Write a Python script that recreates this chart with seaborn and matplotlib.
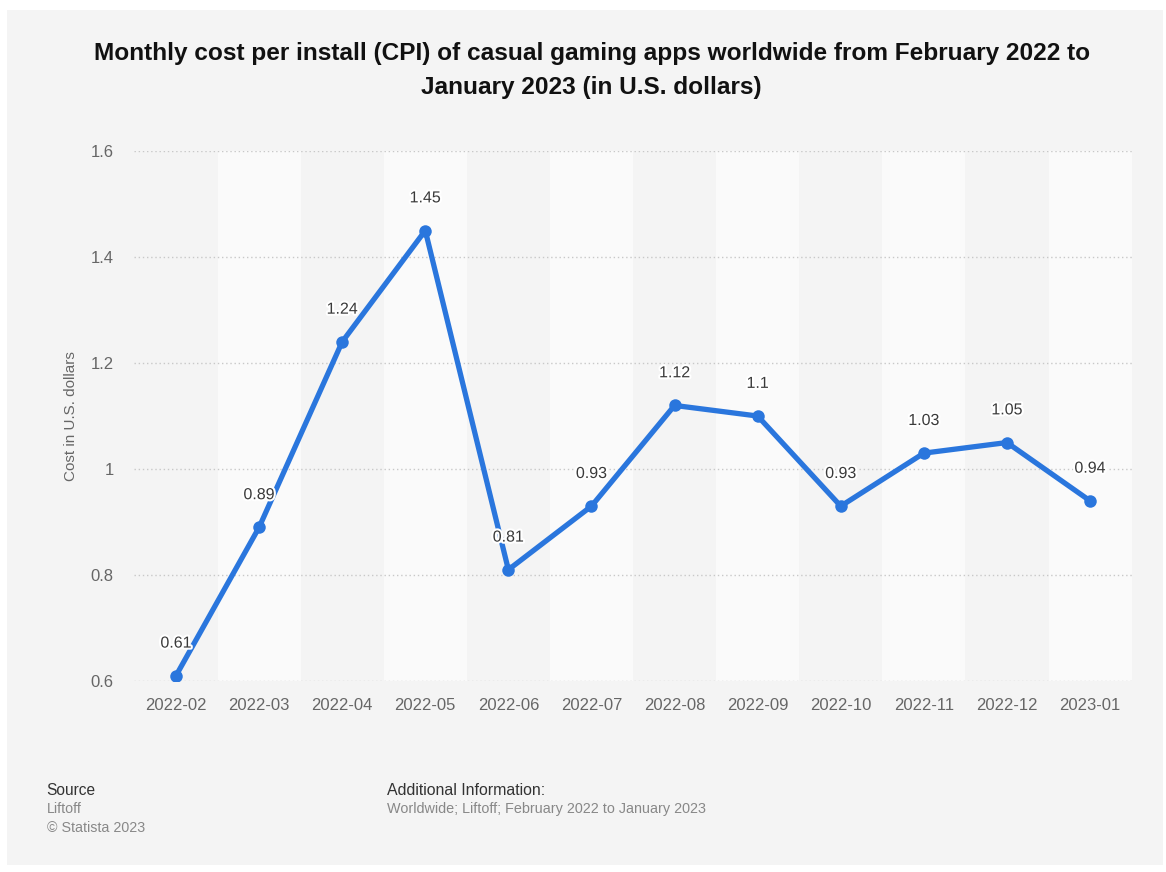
import matplotlib
matplotlib.use("Agg")
import matplotlib.pyplot as plt
import matplotlib.patheffects as pe
from matplotlib.patches import Rectangle
import pandas as pd
import seaborn as sns

meses = ["2022-02", "2022-03", "2022-04", "2022-05", "2022-06", "2022-07",
         "2022-08", "2022-09", "2022-10", "2022-11", "2022-12", "2023-01"]
custo = [0.61, 0.89, 1.24, 1.45, 0.81, 0.93, 1.12, 1.1, 0.93, 1.03, 1.05, 0.94]
rotulos = ["0.61", "0.89", "1.24", "1.45", "0.81", "0.93", "1.12", "1.1",
           "0.93", "1.03", "1.05", "0.94"]
y_ticks = [0.6, 0.8, 1.0, 1.2, 1.4, 1.6]
y_tick_labels = ["0.6", "0.8", "1", "1.2", "1.4", "1.6"]

titulo = ("Monthly cost per install (CPI) of casual gaming apps worldwide from February 2022 to\n"
          "January 2023 (in U.S. dollars)")

df = pd.DataFrame({"mes": meses, "custo": custo})
df["pos"] = range(len(meses))

sns.set_theme(style="white")
plt.rcParams["font.family"] = ["Liberation Sans", "DejaVu Sans"]

fig = plt.figure(figsize=(11.66, 8.72), dpi=100)
fig.patch.set_facecolor("white")
# painel cinza de fundo
fig.add_artist(Rectangle((0.006, 0.008), 0.991, 0.981, transform=fig.transFigure,
                         facecolor="#f4f4f4", edgecolor="none", zorder=-1))

ax = fig.add_axes([0.1153, 0.2190, 0.8552, 0.6078])
ax.set_facecolor("#f4f4f4")

# faixas alternadas
for i in range(len(meses)):
    if i % 2 == 1:
        ax.axvspan(i - 0.5, i + 0.5, color="#fafafa", zorder=0, lw=0)

for yt in y_ticks:
    ax.axhline(yt, color="#c8c8c8", lw=1, ls=(0, (1, 2)), zorder=1)

sns.lineplot(data=df, x="pos", y="custo", ax=ax, color="#2a76dd", lw=3.8,
             marker="o", markersize=9, markeredgewidth=0, zorder=3)

for x, y, r in zip(df["pos"], df["custo"], rotulos):
    ax.annotate(r, (x, y), xytext=(0, 23.5), textcoords="offset points",
                ha="center", va="center", fontsize=11.5, color="#3a3a3a", zorder=4,
                path_effects=[pe.withStroke(linewidth=3, foreground="white")])

ax.set_xlim(-0.5, len(meses) - 0.5)
ax.set_ylim(0.6, 1.6)
ax.set_xticks(df["pos"])
ax.set_xticklabels(meses)
ax.set_yticks(y_ticks)
ax.set_yticklabels(y_tick_labels)
ax.tick_params(axis="both", length=0, labelsize=12, labelcolor="#666666")
ax.tick_params(axis="x", pad=12)
ax.tick_params(axis="y", pad=15)
for s in ax.spines.values():
    s.set_visible(False)
ax.set_xlabel("")
ax.set_ylabel("Cost in U.S. dollars", fontsize=11, color="#666666", labelpad=9)

fig.text(0.5075, 0.9195, titulo, ha="center", va="center", fontsize=17.6, fontweight="bold",
         color="#111111", linespacing=1.6)

fig.text(0.040, 0.094, "Source", fontsize=11.2, color="#333333", va="center")
fig.text(0.040, 0.072, "Liftoff", fontsize=10.3, color="#888888", va="center")
fig.text(0.040, 0.051, "\u00a9 Statista 2023", fontsize=10.3, color="#888888", va="center")
fig.text(0.332, 0.094, "Additional Information:", fontsize=11.4, color="#333333", va="center")
fig.text(0.332, 0.072, "Worldwide; Liftoff; February 2022 to January 2023", fontsize=10.4,
         color="#888888", va="center")

fig.savefig("out.png", dpi=100, facecolor=fig.get_facecolor())
